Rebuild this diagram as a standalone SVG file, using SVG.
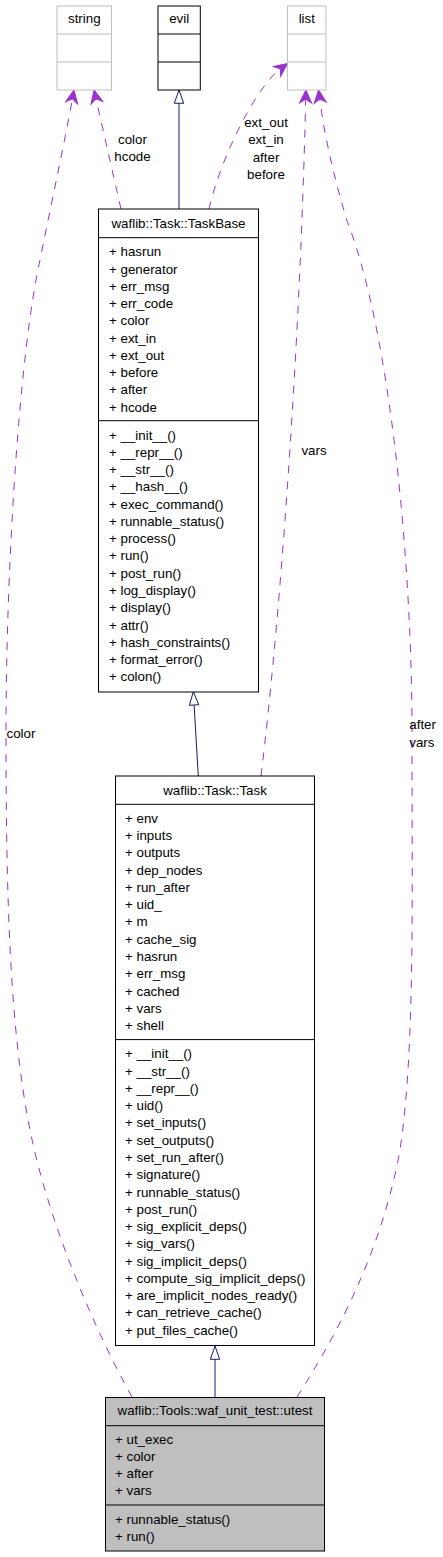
<svg xmlns="http://www.w3.org/2000/svg" width="443" height="1557" viewBox="0 0 443 1557">
<defs>
<style>
text{font-family:"Liberation Sans",Arial,sans-serif;font-size:13.33px;fill:#000}
.c{text-anchor:middle}
.box{fill:#fff;stroke:#000;stroke-width:1}
.gbox{fill:#fff;stroke:#bfbfbf;stroke-width:1}
.sel{fill:#bfbfbf;stroke:#000;stroke-width:1}
.div{stroke:#000;stroke-width:1}
.gdiv{stroke:#bfbfbf;stroke-width:1}
.use{fill:none;stroke:#9a32cd;stroke-width:1;stroke-dasharray:8,8}
.inh{fill:none;stroke:#191970;stroke-width:1}
.tri{fill:#fff;stroke:#191970;stroke-width:1}
</style>
<marker id="vee" markerUnits="userSpaceOnUse" orient="auto" refX="0" refY="0" markerWidth="20" markerHeight="20" viewBox="-6 -8 20 16" overflow="visible">
<path d="M9,0 L-4,-6 L0,0 L-4,6 Z" fill="#9a32cd" stroke="#9a32cd" stroke-width="1"/>
</marker>
</defs>

<g id="connectors">
<path class="use" d="M132,1397 C100,1340 50,1230 30,1130 C10,1030 6,900 6,733 C6,560 20,350 40,260 C52,200 65,140 72.4,98.8" marker-end="url(#vee)"/>
<path class="use" d="M121,209 L96,98.8" marker-end="url(#vee)"/>
<path class="use" d="M209,209 C220,160 255,88 280.3,68.9" marker-end="url(#vee)"/>
<path class="use" d="M261,776 C280,620 300,350 305.7,99" marker-end="url(#vee)"/>
<path class="use" d="M297,1397 C330,1345 380,1260 400,1150 C415,1050 412,900 412,733 C412,560 390,330 346.7,220 C335,180 325,140 319.7,98.8" marker-end="url(#vee)"/>
<line class="inh" x1="179" y1="209" x2="179" y2="103.3"/>
<polygon class="tri" points="179,90 183.7,103.3 174.3,103.3"/>
<line class="inh" x1="198.3" y1="776" x2="194.1" y2="705"/>
<polygon class="tri" points="193.3,691.7 198.8,704.7 189.4,705.3"/>
<line class="inh" x1="215" y1="1397" x2="215" y2="1359.3"/>
<polygon class="tri" points="215,1346 219.7,1359.3 210.3,1359.3"/>
<text class="c" x="132.5" y="144">color</text>
<text class="c" x="132.5" y="161.2">hcode</text>
<text class="c" x="266" y="127.2">ext_out</text>
<text class="c" x="266" y="144.4">ext_in</text>
<text class="c" x="266" y="161.6">after</text>
<text class="c" x="266" y="178.8">before</text>
<text class="c" x="314" y="454.5">vars</text>
<text x="6.5" y="738">color</text>
<text x="409.3" y="728.5">after</text>
<text x="409.3" y="746.5">vars</text>
</g>

<g id="string">
<rect class="gbox" x="57" y="6" width="54.5" height="84"/>
<line class="gdiv" x1="57" y1="34" x2="111.5" y2="34"/>
<line class="gdiv" x1="57" y1="62" x2="111.5" y2="62"/>
<text class="c" x="84.3" y="23">string</text>
</g>

<g id="evil">
<rect class="box" x="158" y="6" width="42.3" height="84"/>
<line class="div" x1="158" y1="34" x2="200.3" y2="34"/>
<line class="div" x1="158" y1="62" x2="200.3" y2="62"/>
<text class="c" x="179.2" y="23">evil</text>
</g>

<g id="list">
<rect class="gbox" x="287.5" y="6" width="38.5" height="84"/>
<line class="gdiv" x1="287.5" y1="34" x2="326" y2="34"/>
<line class="gdiv" x1="287.5" y1="62" x2="326" y2="62"/>
<text class="c" x="306.8" y="23">list</text>
</g>

<g id="TaskBase">
<rect class="box" x="98.5" y="209" width="160" height="483"/>
<line class="div" x1="98.5" y1="237.7" x2="258.5" y2="237.7"/>
<line class="div" x1="98.5" y1="420.7" x2="258.5" y2="420.7"/>
<text class="c" x="178.5" y="228">waflib::Task::TaskBase</text>
<text x="109" y="256.2">+ hasrun</text>
<text x="109" y="273.5">+ generator</text>
<text x="109" y="290.7">+ err_msg</text>
<text x="109" y="308">+ err_code</text>
<text x="109" y="325.3">+ color</text>
<text x="109" y="342.6">+ ext_in</text>
<text x="109" y="359.8">+ ext_out</text>
<text x="109" y="377.1">+ before</text>
<text x="109" y="394.4">+ after</text>
<text x="109" y="411.6">+ hcode</text>
<text x="109" y="439.5">+ __init__()</text>
<text x="109" y="456.8">+ __repr__()</text>
<text x="109" y="474">+ __str__()</text>
<text x="109" y="491.3">+ __hash__()</text>
<text x="109" y="508.6">+ exec_command()</text>
<text x="109" y="525.9">+ runnable_status()</text>
<text x="109" y="543.1">+ process()</text>
<text x="109" y="560.4">+ run()</text>
<text x="109" y="577.7">+ post_run()</text>
<text x="109" y="594.9">+ log_display()</text>
<text x="109" y="612.2">+ display()</text>
<text x="109" y="629.5">+ attr()</text>
<text x="109" y="646.7">+ hash_constraints()</text>
<text x="109" y="664">+ format_error()</text>
<text x="109" y="681.3">+ colon()</text>
</g>

<g id="Task">
<rect class="box" x="115.5" y="776" width="199" height="569.5"/>
<line class="div" x1="115.5" y1="804.3" x2="314.5" y2="804.3"/>
<line class="div" x1="115.5" y1="1039.6" x2="314.5" y2="1039.6"/>
<text class="c" x="215" y="794.5">waflib::Task::Task</text>
<text x="125" y="822.8">+ env</text>
<text x="125" y="840.1">+ inputs</text>
<text x="125" y="857.3">+ outputs</text>
<text x="125" y="874.6">+ dep_nodes</text>
<text x="125" y="891.9">+ run_after</text>
<text x="125" y="909.2">+ uid_</text>
<text x="125" y="926.4">+ m</text>
<text x="125" y="943.7">+ cache_sig</text>
<text x="125" y="961">+ hasrun</text>
<text x="125" y="978.2">+ err_msg</text>
<text x="125" y="995.5">+ cached</text>
<text x="125" y="1012.8">+ vars</text>
<text x="125" y="1030">+ shell</text>
<text x="125" y="1058.3">+ __init__()</text>
<text x="125" y="1075.6">+ __str__()</text>
<text x="125" y="1092.8">+ __repr__()</text>
<text x="125" y="1110.1">+ uid()</text>
<text x="125" y="1127.4">+ set_inputs()</text>
<text x="125" y="1144.6">+ set_outputs()</text>
<text x="125" y="1161.9">+ set_run_after()</text>
<text x="125" y="1179.2">+ signature()</text>
<text x="125" y="1196.5">+ runnable_status()</text>
<text x="125" y="1213.7">+ post_run()</text>
<text x="125" y="1231">+ sig_explicit_deps()</text>
<text x="125" y="1248.3">+ sig_vars()</text>
<text x="125" y="1265.5">+ sig_implicit_deps()</text>
<text x="125" y="1282.8">+ compute_sig_implicit_deps()</text>
<text x="125" y="1300.1">+ are_implicit_nodes_ready()</text>
<text x="125" y="1317.3">+ can_retrieve_cache()</text>
<text x="125" y="1334.6">+ put_files_cache()</text>
</g>

<g id="utest">
<rect class="sel" x="105.5" y="1397.5" width="219" height="153.5"/>
<line class="div" x1="105.5" y1="1425.7" x2="324.5" y2="1425.7"/>
<line class="div" x1="105.5" y1="1505" x2="324.5" y2="1505"/>
<text class="c" x="215" y="1415.2">waflib::Tools::waf_unit_test::utest</text>
<text x="115" y="1443.5">+ ut_exec</text>
<text x="115" y="1460.8">+ color</text>
<text x="115" y="1478">+ after</text>
<text x="115" y="1495.3">+ vars</text>
<text x="115" y="1523.5">+ runnable_status()</text>
<text x="115" y="1540.8">+ run()</text>
</g>
</svg>
